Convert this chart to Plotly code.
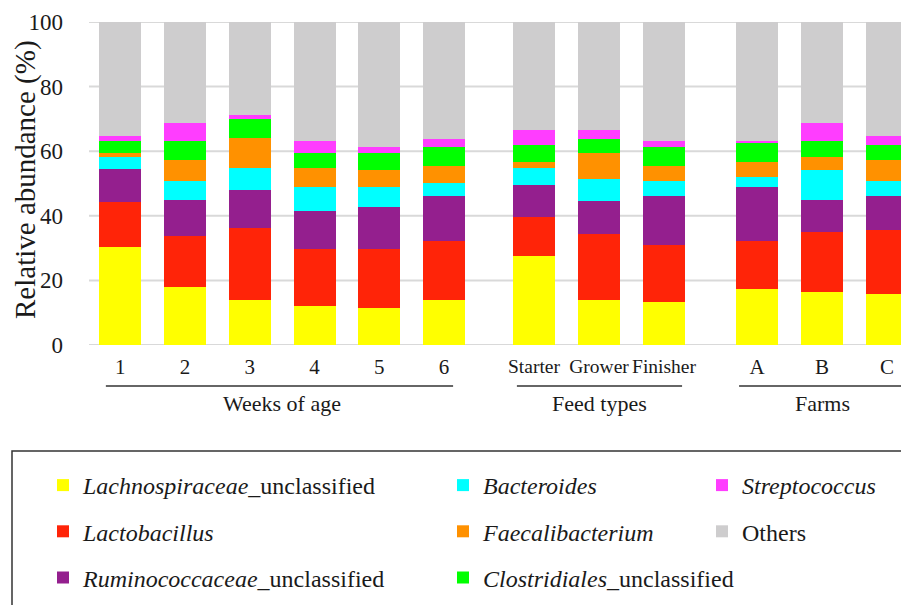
import plotly.graph_objects as go

# ---------------- data ----------------
weeks = ["1", "2", "3", "4", "5", "6"]
feeds = ["Starter", "Grower", "Finisher"]
farms = ["A", "B", "C"]
group_titles = ["Weeks of age", "Feed types", "Farms"]
y_title = "Relative abundance (%)"

series_names = [
    "<i>Lachnospiraceae</i>_unclassified",
    "<i>Lactobacillus</i>",
    "<i>Ruminococcaceae</i>_unclassified",
    "<i>Bacteroides</i>",
    "<i>Faecalibacterium</i>",
    "<i>Clostridiales</i>_unclassified",
    "<i>Streptococcus</i>",
    "Others",
]
# values for bars: weeks 1-6, Starter, Grower, Finisher, A, B, C
lachnospiraceae = [30.4, 18.0, 13.9, 12.1, 11.4, 13.9, 27.7, 13.9, 13.3, 17.3, 16.5, 15.9]
lactobacillus   = [13.8, 15.7, 22.4, 17.7, 18.4, 18.4, 11.9, 20.4, 17.7, 15.0, 18.5, 19.7]
ruminococcaceae = [10.4, 11.1, 11.8, 11.7, 13.0, 13.8, 9.9, 10.4, 15.1, 16.5, 9.8, 10.5]
bacteroides     = [3.5, 6.0, 6.7, 7.4, 6.1, 4.1, 5.3, 6.7, 4.7, 3.3, 9.3, 4.7]
faecalibacterium = [1.3, 6.6, 9.2, 5.9, 5.2, 5.3, 2.0, 8.0, 4.7, 4.7, 4.1, 6.6]
clostridiales   = [3.8, 5.8, 5.9, 4.6, 5.3, 5.8, 5.1, 4.5, 5.9, 5.8, 5.0, 4.5]
streptococcus   = [1.4, 5.4, 1.4, 3.9, 2.0, 2.6, 4.7, 2.7, 1.8, 0.6, 5.4, 2.7]
others          = [35.4, 31.4, 28.7, 36.7, 38.6, 36.1, 33.4, 33.4, 36.8, 36.8, 31.4, 35.4]

y_ticks = [0, 20, 40, 60, 80, 100]

# ---------------- styling ----------------
colors = ["#FFFF00", "#FF2408", "#941F8E", "#00FFFF", "#FF9100", "#00FF00", "#FF3DFF", "#CECDCE"]
FONT = "'Liberation Serif', 'Times New Roman', serif"
TXT = "#1a1a1a"

all_series = [lachnospiraceae, lactobacillus, ruminococcaceae, bacteroides,
              faecalibacterium, clostridiales, streptococcus, others]
groups = [weeks, feeds, farms]
axis_ids = ["x", "x2", "x3"]
legend_ids = ["legend", "legend", "legend", "legend2", "legend2", "legend2", "legend3", "legend3"]

fig = go.Figure()
for si, (name, vals, col) in enumerate(zip(series_names, all_series, colors)):
    start = 0
    for gi, cats in enumerate(groups):
        seg = vals[start:start + len(cats)]
        start += len(cats)
        fig.add_trace(go.Bar(
            x=cats, y=seg, name=name,
            marker=dict(color=col, line=dict(width=0)),
            xaxis=axis_ids[gi], yaxis="y",
            legendgroup="s%d" % si, showlegend=(gi == 0),
            legend=legend_ids[si],
            hovertemplate="%{x}: %{y}%<extra></extra>",
        ))

# page body has an 8px margin: work in reference-picture pixels, shift by OFF
OFF = 8
W, H = 909 - OFF, 605 - OFF
plot_left, plot_right, plot_top, plot_bottom = 88, 909, 22, 345   # reference pixels
L = plot_left - OFF
R = W - (plot_right - OFF)
T = plot_top - OFF
B = H - (plot_bottom - OFF)
pw, ph = W - L - R, H - T - B

def px_x(p):
    return (p - OFF - L) / pw

def px_y(p):
    return (H - B - (p - OFF)) / ph

domains = [[px_x(88), px_x(476.4)], [px_x(501.5), px_x(696.5)], [px_x(724.5), 1.0]]
ranges = [[-0.5, 5.5], [-0.5, 2.5], [-0.5, 2.34]]

xcommon = dict(type="category", showgrid=False, zeroline=False, showline=False,
               ticks="", tickangle=0, tickfont=dict(family=FONT, size=21, color=TXT),
               ticklabelstandoff=7, anchor="y", fixedrange=True)

layout_axes = {}
for gi, aid in enumerate(axis_ids):
    key = "xaxis" if aid == "x" else "xaxis" + aid[1:]
    d = dict(xcommon)
    d["domain"] = domains[gi]
    d["range"] = ranges[gi]
    if gi == 1:
        d["tickfont"] = dict(family=FONT, size=19.5, color=TXT)
    layout_axes[key] = d

legend_common = dict(xanchor="left", yanchor="top",
                     font=dict(family=FONT, size=24, color=TXT),
                     tracegroupgap=12, bgcolor="rgba(0,0,0,0)")

fig.update_layout(
    width=W, height=H,
    margin=dict(l=L, r=R, t=T, b=B, autoexpand=False),
    paper_bgcolor="white", plot_bgcolor="rgba(0,0,0,0)",
    barmode="stack", bargap=0.35,
    font=dict(family=FONT, color=TXT),
    yaxis=dict(range=[0, 100], tickvals=y_ticks, showgrid=False, zeroline=False,
               showline=False, ticks="", ticklabelstandoff=24,
               tickfont=dict(family=FONT, size=23, color=TXT),
               fixedrange=True),
    **layout_axes,
    showlegend=True,
    legend=dict(x=px_x(43), y=px_y(463), **legend_common),
    legend2=dict(x=px_x(443), y=px_y(463), **legend_common),
    legend3=dict(x=px_x(702), y=px_y(463), **legend_common),
)

shapes = []
# horizontal grid lines spanning the full plot width (including gaps between groups)
for t in y_ticks:
    shapes.append(dict(type="line", xref="paper", yref="y", x0=px_x(89), x1=1, y0=t, y1=t,
                       line=dict(color="#D9D9D9", width=2), layer="below"))
# group underline bars
underlines = [(0.046, 0.94), (0.079, 0.926), (0.079, 1.0)]
for gi, aid in enumerate(axis_ids):
    shapes.append(dict(type="line", xref=aid + " domain", yref="paper",
                       x0=underlines[gi][0], x1=underlines[gi][1],
                       y0=px_y(386), y1=px_y(386),
                       line=dict(color="#333333", width=1.5)))
# legend frame
shapes.append(dict(type="rect", xref="paper", yref="paper",
                   x0=px_x(12), x1=px_x(903), y0=px_y(451), y1=px_y(607),
                   line=dict(color="#333333", width=1.5)))
fig.update_layout(shapes=shapes)

annotations = []
for gi, aid in enumerate(axis_ids):
    annotations.append(dict(text=group_titles[gi], xref=aid + " domain", yref="paper",
                            x=0.5 if gi < 2 else 0.53, y=px_y(404), showarrow=False,
                            xanchor="center", yanchor="middle",
                            font=dict(family=FONT, size=22, color=TXT)))
# y-axis title
annotations.append(dict(text=y_title, xref="paper", yref="paper",
                        x=px_x(25), y=px_y(180), textangle=-90, showarrow=False,
                        xanchor="center", yanchor="middle",
                        font=dict(family=FONT, size=29, color=TXT)))
fig.update_layout(annotations=annotations)

fig.write_html("out.html")
